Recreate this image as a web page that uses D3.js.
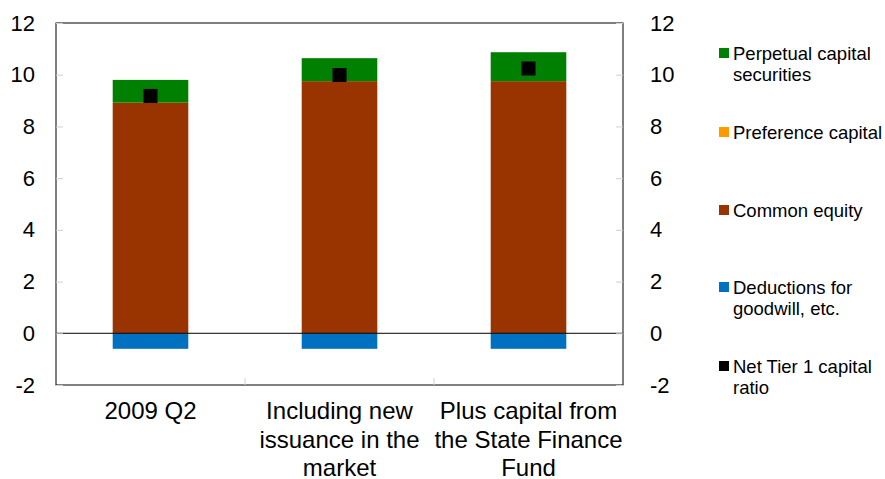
<!DOCTYPE html>
<html>
<head>
<meta charset="utf-8">
<script src="https://d3js.org/d3.v7.min.js"></script>
<style>
  body { margin: 0; background: #fff; }
  svg text { font-family: "Liberation Sans", Arial, sans-serif; fill: #000; }
</style>
</head>
<body>
<div id="viz"></div>
<script>
// Tier 1 capital, per cent
var categories = ["2009 Q2", "Including new issuance in the market", "Plus capital from the State Finance Fund"];
var categoryLines = [["2009 Q2"], ["Including new", "issuance in the", "market"], ["Plus capital from", "the State Finance", "Fund"]];
var commonEquity = [8.92, 9.75, 9.75];
var preferenceCapital = [0, 0, 0];
var perpetualCapital = [0.88, 0.89, 1.12];
var deductions = [-0.6, -0.6, -0.6];
var netTier1 = [9.18, 9.99, 10.24];
var yTicks = [-2, 0, 2, 4, 6, 8, 10, 12];

var legendItems = [
    {label: ["Perpetual capital", "securities"], color: "#008000"},
    {label: ["Preference capital"], color: "#FF9900"},
    {label: ["Common equity"], color: "#993300"},
    {label: ["Deductions for", "goodwill, etc."], color: "#0070C0"},
    {label: ["Net Tier 1 capital", "ratio"], color: "#000000"}
];

var width = 885, height = 479;
var plotLeft = 56, plotRight = 623, plotTop = 23, plotBottom = 385;

var svg = d3.select("#viz").append("svg")
    .attr("width", width).attr("height", height);

var x = d3.scaleBand().domain(categories).range([plotLeft, plotRight]).paddingInner(0.6).paddingOuter(0.3);
var xOuter = d3.scaleBand().domain(categories).range([plotLeft, plotRight]);
var y = d3.scaleLinear().domain([-2, 12]).range([plotBottom, plotTop]);

// stacked segments
var segments = [];
categories.forEach(function(c, i) {
    var base = 0;
    [[commonEquity, "#993300"], [preferenceCapital, "#FF9900"], [perpetualCapital, "#008000"]].forEach(function(s) {
        segments.push({cat: c, y0: base, y1: base + s[0][i], color: s[1]});
        base += s[0][i];
    });
    segments.push({cat: c, y0: deductions[i], y1: 0, color: "#0070C0"});
});

svg.append("g").selectAll("rect").data(segments.filter(function(d) { return d.y1 !== d.y0; }))
    .enter().append("rect")
    .attr("x", function(d) { return x(d.cat); })
    .attr("width", x.bandwidth())
    .attr("y", function(d) { return y(Math.max(d.y0, d.y1)); })
    .attr("height", function(d) { return Math.abs(y(d.y0) - y(d.y1)); })
    .attr("fill", function(d) { return d.color; });

// net tier 1 markers
var ms = 14;
svg.append("g").selectAll("rect").data(netTier1).enter().append("rect")
    .attr("x", function(d, i) { return x(categories[i]) + x.bandwidth() / 2 - ms / 2; })
    .attr("y", function(d) { return y(d) - ms / 2; })
    .attr("width", ms).attr("height", ms)
    .attr("fill", "#000");

// zero line
svg.append("line")
    .attr("x1", plotLeft).attr("x2", plotRight)
    .attr("y1", y(0)).attr("y2", y(0))
    .attr("stroke", "#000").attr("stroke-width", 1);

// frame
svg.append("rect")
    .attr("x", plotLeft).attr("y", plotTop)
    .attr("width", plotRight - plotLeft).attr("height", plotBottom - plotTop)
    .attr("fill", "none").attr("stroke", "#000").attr("stroke-width", 1);

var fmt = function(d) { return String(d); };

// left axis
var leftAxis = svg.append("g").attr("transform", "translate(" + plotLeft + ",0)")
    .call(d3.axisLeft(y).tickValues(yTicks).tickFormat(fmt).tickSize(-7).tickPadding(21));
leftAxis.select(".domain").remove();
leftAxis.selectAll(".tick line").attr("stroke", "#d0d0d0");
leftAxis.selectAll("text").style("font-size", "22px").attr("fill", "#000");

// right axis
var rightAxis = svg.append("g").attr("transform", "translate(" + plotRight + ",0)")
    .call(d3.axisRight(y).tickValues(yTicks).tickFormat(fmt).tickSize(-7).tickPadding(27));
rightAxis.select(".domain").remove();
rightAxis.selectAll(".tick line").attr("stroke", "#d0d0d0");
rightAxis.selectAll("text").style("font-size", "22px").attr("fill", "#000");

// category separators
svg.append("g").selectAll("line").data(categories.slice(1)).enter().append("line")
    .attr("x1", function(d) { return xOuter(d); })
    .attr("x2", function(d) { return xOuter(d); })
    .attr("y1", plotBottom).attr("y2", plotBottom - 7)
    .attr("stroke", "#d0d0d0");

// category labels
var catLabels = svg.append("g").selectAll("text").data(categories).enter().append("text")
    .attr("text-anchor", "middle")
    .style("font-size", "24px")
    .attr("y", 419);
catLabels.each(function(d, i) {
    var t = d3.select(this);
    categoryLines[i].forEach(function(line, j) {
        t.append("tspan")
            .attr("x", x(d) + x.bandwidth() / 2)
            .attr("dy", j === 0 ? 0 : 28.5)
            .text(line);
    });
});

// legend
var legend = svg.append("g").attr("transform", "translate(719,0)");
var legendY = [53, 132, 210, 287, 366];
legendItems.forEach(function(item, i) {
    var g = legend.append("g").attr("transform", "translate(0," + legendY[i] + ")");
    g.append("rect").attr("x", 0).attr("y", -5).attr("width", 10).attr("height", 10)
        .attr("fill", item.color);
    var t = g.append("text").style("font-size", "18.5px").attr("y", 7);
    item.label.forEach(function(line, j) {
        t.append("tspan").attr("x", 14).attr("dy", j === 0 ? 0 : 21).text(line);
    });
});
</script>
</body>
</html>
